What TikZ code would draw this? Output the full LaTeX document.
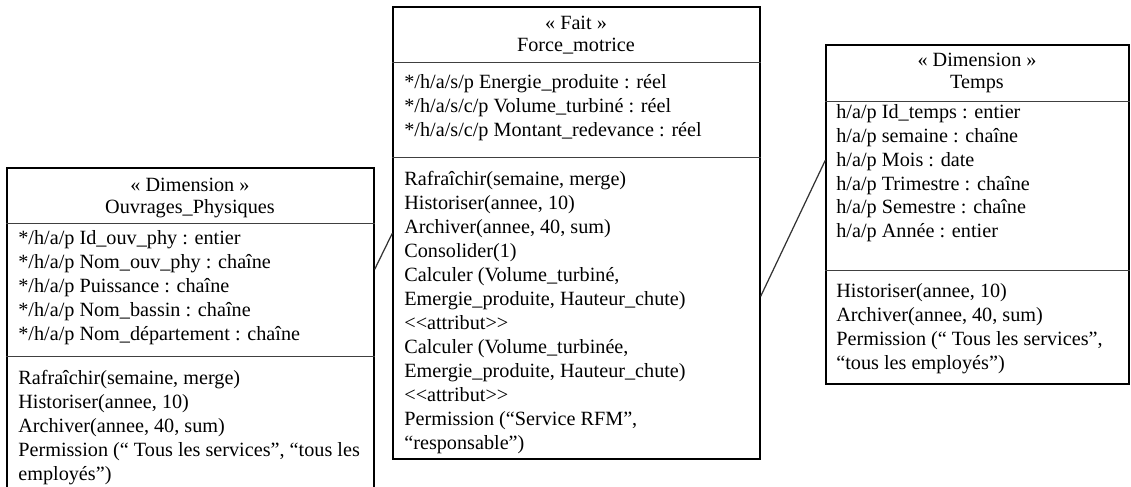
\documentclass[tikz,border=0pt]{standalone}
\usepackage{fontspec}
\setmainfont{Liberation Serif}
\usepackage{tikz}
\usetikzlibrary{positioning}
\tikzset{
  umlbox/.style={draw=black,line width=0.8pt,inner sep=0pt},
  umlsep/.style={line width=0.8pt,draw=black!75},
  umlhead/.style={align=center,inner sep=0pt,font=\fontsize{11.5}{12.5}\selectfont},
  umltxt/.style={align=left,anchor=north west,inner sep=0pt,font=\fontsize{11.5}{13.66}\selectfont},
  umllink/.style={line width=0.7pt,draw=black!80}
}
\begin{document}
\begin{tikzpicture}
  \clip (0,0) rectangle (22.62,9.72);
  % dimension Ouvrages_Physiques
  \node[umlbox,minimum width=7.34cm,minimum height=6.76cm] (ouv) at (3.81,2.98) {};
  \draw[umlsep] ([yshift=-1.12cm]ouv.north west) -- ([yshift=-1.12cm]ouv.north east);
  \draw[umlsep] ([yshift=-3.78cm]ouv.north west) -- ([yshift=-3.78cm]ouv.north east);
  \node[umlhead] (ouvh) at (3.80,5.76) {« Dimension »\\Ouvrages\_Physiques};
  \node[umltxt] (ouva) at (0.36,5.18) {\strut*/h/a/p Id\_ouv\_phy : entier\\
    */h/a/p Nom\_ouv\_phy : chaîne\\*/h/a/p Puissance : chaîne\\
    */h/a/p Nom\_bassin : chaîne\\*/h/a/p Nom\_département : chaîne};
  \node[umltxt] (ouvm) at (0.36,2.38) {\strut Rafraîchir(semaine, merge)\\Historiser(annee, 10)\\
    Archiver(annee, 40, sum)\\Permission (“ Tous les services”, “tous les\\employés”)};
  % fait Force_motrice
  \node[umlbox,minimum width=7.34cm,minimum height=9.04cm] (fait) at (11.53,5.06) {};
  \draw[umlsep] ([yshift=-1.12cm]fait.north west) -- ([yshift=-1.12cm]fait.north east);
  \draw[umlsep] ([yshift=-3.02cm]fait.north west) -- ([yshift=-3.02cm]fait.north east);
  \node[umlhead] (faith) at (11.52,9.02) {« Fait »\\Force\_motrice};
  \node[umltxt] (faita) at (8.08,8.30) {\strut*/h/a/s/p Energie\_produite : réel\\
    */h/a/s/c/p Volume\_turbiné : réel\\*/h/a/s/c/p Montant\_redevance : réel};
  \node[umltxt] (faitm) at (8.08,6.36) {\strut Rafraîchir(semaine, merge)\\Historiser(annee, 10)\\
    Archiver(annee, 40, sum)\\Consolider(1)\\Calculer (Volume\_turbiné,\\
    Emergie\_produite, Hauteur\_chute)\\<{}<attribut>{}>\\Calculer (Volume\_turbinée,\\
    Emergie\_produite, Hauteur\_chute)\\<{}<attribut>{}>\\Permission (“Service RFM”,\\“responsable”)};
  % dimension Temps
  \node[umlbox,minimum width=6.06cm,minimum height=6.78cm] (temps) at (19.55,5.43) {};
  \draw[umlsep] ([yshift=-1.14cm]temps.north west) -- ([yshift=-1.14cm]temps.north east);
  \draw[umlsep] ([yshift=-4.52cm]temps.north west) -- ([yshift=-4.52cm]temps.north east);
  \node[umlhead] (tempsh) at (19.54,8.26) {« Dimension »\\Temps};
  \node[umltxt,font=\fontsize{11.5}{13.5}\selectfont] (tempsa) at (16.72,7.68) {\strut h/a/p Id\_temps : entier\\
    h/a/p semaine : chaîne\\h/a/p Mois : date\\h/a/p Trimestre : chaîne\\
    h/a/p Semestre : chaîne\\h/a/p Année : entier};
  \node[umltxt,font=\fontsize{11.5}{13.5}\selectfont] (tempsm) at (16.72,4.10) {\strut Historiser(annee, 10)\\
    Archiver(annee, 40, sum)\\Permission (“ Tous les services”,\\“tous les employés”)};
  % links
  \draw[umllink] ([yshift=-2.04cm]ouv.north east) -- ([yshift=-4.54cm]fait.north west);
  \draw[umllink] ([yshift=-5.80cm]fait.north east) -- ([yshift=-2.32cm]temps.north west);
\end{tikzpicture}
\end{document}
